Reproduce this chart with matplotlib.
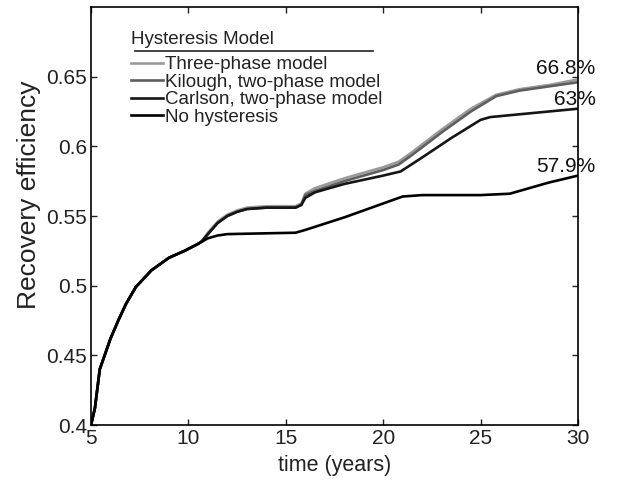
import matplotlib
matplotlib.use("Agg")
import matplotlib.pyplot as plt

# ---- data ----
t_common = [5.0, 5.2, 5.45, 5.7, 6.0, 6.4, 6.8, 7.3, 8.1, 9.0, 9.8, 10.5]
v_common = [0.400, 0.412, 0.440, 0.450, 0.462, 0.475, 0.487, 0.499, 0.511, 0.520, 0.525, 0.530]

t_nohyst = [11.0, 11.5, 12.0, 15.5, 16.0, 18.0, 20.0, 21.0, 22.0, 25.0, 26.5, 27.5, 28.5, 30.0]
v_nohyst = [0.534, 0.536, 0.537, 0.538, 0.540, 0.549, 0.559, 0.564, 0.565, 0.565, 0.566, 0.570, 0.574, 0.579]

t_three = [10.7, 11.0, 11.5, 12.0, 12.5, 13.0, 14.0, 15.5, 15.8, 16.0, 16.5, 18.0, 20.0, 20.8, 21.5, 23.0, 24.5, 25.8, 27.0, 28.5, 30.0]
v_three = [0.532, 0.538, 0.546, 0.551, 0.554, 0.556, 0.557, 0.557, 0.559, 0.566, 0.570, 0.577, 0.585, 0.589, 0.596, 0.612, 0.627, 0.637, 0.641, 0.644, 0.648]

t_kil = [10.7, 11.0, 11.5, 12.0, 12.5, 13.0, 14.0, 15.5, 15.8, 16.0, 16.5, 18.0, 20.0, 20.8, 21.5, 23.0, 24.5, 25.8, 27.0, 28.5, 30.0]
v_kil = [0.532, 0.537, 0.545, 0.550, 0.553, 0.555, 0.556, 0.556, 0.558, 0.565, 0.568, 0.575, 0.583, 0.587, 0.594, 0.610, 0.625, 0.636, 0.640, 0.643, 0.646]

t_carl = [10.7, 11.0, 11.5, 12.0, 12.5, 13.0, 14.0, 15.5, 15.8, 16.0, 16.5, 18.0, 20.0, 20.9, 22.0, 23.5, 25.0, 25.5, 27.0, 28.5, 30.0]
v_carl = [0.532, 0.537, 0.545, 0.550, 0.553, 0.555, 0.556, 0.556, 0.558, 0.563, 0.567, 0.573, 0.579, 0.582, 0.592, 0.606, 0.619, 0.621, 0.623, 0.625, 0.627]

labels = ["Three-phase model", "Kilough, two-phase model", "Carlson, two-phase model", "No hysteresis"]
end_labels = ["66.8%", "63%", "57.9%"]
end_label_y = [0.6557, 0.6336, 0.5857]

xticks = [5, 10, 15, 20, 25, 30]
yticks = [0.4, 0.45, 0.5, 0.55, 0.6, 0.65]
ytick_labels = ["0.4", "0.45", "0.5", "0.55", "0.6", "0.65"]

plt.rcParams['font.family'] = ['Liberation Sans', 'DejaVu Sans']

fig = plt.figure(figsize=(6.17, 4.84), dpi=100)
ax = fig.add_axes([91/617, 1 - 425/484, 487/617, 418/484])

def full(tc, vc, ts, vs):
    return list(tc) + list(ts), list(vc) + list(vs)

styles = [
    (t_three, v_three, '#9a9a9a', 1.9),
    (t_kil, v_kil, '#5e5e5e', 1.9),
    (t_carl, v_carl, '#151515', 1.9),
    (t_nohyst, v_nohyst, '#000000', 1.9),
]
handles = []
for (ts, vs, c, lw), lab in zip(styles, labels):
    x, y = full(t_common, v_common, ts, vs)
    h, = ax.plot(x, y, color=c, lw=lw, label=lab)
    handles.append(h)

ax.set_xlim(5, 30)
ax.set_ylim(0.4, 0.7)
ax.set_xticks(xticks)
ax.set_yticks(yticks)
ax.set_yticklabels(ytick_labels)
ax.tick_params(direction='in', length=4, width=1, top=True, right=True,
               labelsize=15, colors='#222222', pad=3)
for s in ax.spines.values():
    s.set_linewidth(1.2)

ax.set_xlabel("time (years)", fontsize=15.5, color='#222222', labelpad=5)
ax.set_ylabel("Recovery efficiency", fontsize=19, color='#222222')
ax.yaxis.set_label_coords(-0.102, 0.55)

leg = ax.legend(handles=handles, labels=labels, title="Hysteresis Model",
                loc='upper left', bbox_to_anchor=(0.082, 0.9435), frameon=False,
                fontsize=13.5, title_fontsize=13.5, alignment='left',
                handlelength=1.7, handletextpad=0.1, labelspacing=0.02,
                borderpad=0, borderaxespad=0)
leg.get_title().set_color('#222222')
for txt in leg.get_texts():
    txt.set_color('#222222')
leg._legend_box.sep = 6

ax.plot([0.09, 0.579], [0.895, 0.895], transform=ax.transAxes, color='#222222', lw=1.2)

for lab, yy in zip(end_labels, end_label_y):
    ax.text(30.9, yy, lab, ha='right', va='center', fontsize=15, color='#111111',
            clip_on=False)

fig.savefig("out.png", dpi=100)
